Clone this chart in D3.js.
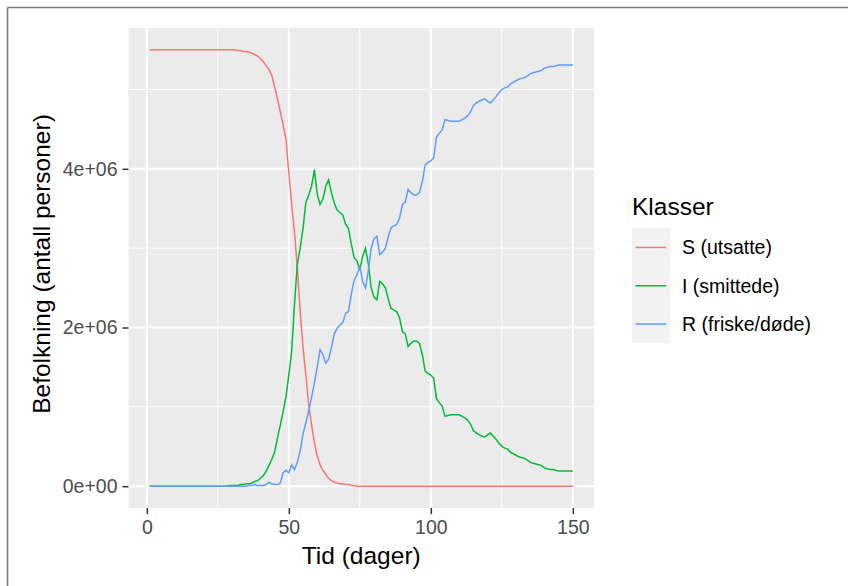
<!DOCTYPE html>
<html>
<head>
<meta charset="utf-8">
<script src="https://cdn.jsdelivr.net/npm/d3@7"></script>
<style>
  body { margin: 0; background: #fff; }
  svg { display: block; font-family: "Liberation Sans", Arial, sans-serif; }
</style>
</head>
<body>
<svg id="chart" width="848" height="586"></svg>
<script>
// values in millions of persons, one per day (day 1 .. 150)
var days = d3.range(1, 151);

var S = [
  5.5,5.5,5.5,5.5,5.5,5.5,5.5,5.5,5.5,5.5,
  5.5,5.5,5.5,5.5,5.5,5.5,5.5,5.5,5.5,5.5,
  5.5,5.5,5.5,5.5,5.5,5.5,5.5,5.5,5.5,5.5,
  5.5,5.49,5.49,5.48,5.48,5.47,5.46,5.44,5.42,5.39,
  5.35,5.30,5.25,5.18,5.03,4.88,4.72,4.55,4.37,3.95,
  3.55,3.20,2.75,2.20,1.75,1.40,1.02,0.78,0.55,0.38,
  0.27,0.20,0.15,0.10,0.07,0.05,0.04,0.03,0.03,0.02,
  0.02,0.01,0.01,0,0,0,0,0,0,0,
  0,0,0,0,0,0,0,0,0,0,
  0,0,0,0,0,0,0,0,0,0,
  0,0,0,0,0,0,0,0,0,0,
  0,0,0,0,0,0,0,0,0,0,
  0,0,0,0,0,0,0,0,0,0,
  0,0,0,0,0,0,0,0,0,0,
  0,0,0,0,0,0,0,0,0,0
];

var I = [
  0,0,0,0,0,0,0,0,0,0,
  0,0,0,0,0,0,0,0,0,0,
  0,0,0,0,0,0,0,0,0.01,0.01,
  0.01,0.01,0.02,0.02,0.03,0.03,0.04,0.06,0.07,0.10,
  0.13,0.19,0.26,0.34,0.43,0.61,0.77,0.94,1.13,1.40,
  1.70,2.30,2.80,3.00,3.25,3.58,3.67,3.78,3.99,3.68,
  3.55,3.62,3.78,3.86,3.70,3.57,3.48,3.45,3.42,3.30,
  3.25,3.05,2.88,2.84,2.72,2.90,3.00,2.80,2.50,2.38,
  2.35,2.58,2.55,2.50,2.36,2.24,2.22,2.20,2.12,1.95,
  1.92,1.76,1.80,1.83,1.83,1.80,1.66,1.45,1.42,1.40,
  1.36,1.10,1.05,1.01,0.88,0.89,0.90,0.90,0.90,0.90,
  0.88,0.86,0.83,0.78,0.70,0.67,0.65,0.63,0.62,0.65,
  0.67,0.63,0.59,0.54,0.50,0.48,0.47,0.43,0.41,0.39,
  0.37,0.36,0.35,0.33,0.30,0.29,0.28,0.27,0.26,0.23,
  0.22,0.21,0.21,0.20,0.19,0.19,0.19,0.19,0.19,0.19
];

var R = [
  0,0,0,0,0,0,0,0,0,0,
  0,0,0,0,0,0,0,0,0,0,
  0,0,0,0,0,0,0,0,0,0,
  0,0,0,0,0,0.01,0.01,0.02,0.01,0.01,
  0.01,0.02,0.05,0.03,0.02,0.02,0.04,0.17,0.20,0.17,
  0.27,0.21,0.30,0.45,0.66,0.80,0.95,1.12,1.30,1.50,
  1.72,1.66,1.55,1.60,1.75,1.92,1.99,2.03,2.06,2.18,
  2.20,2.42,2.60,2.66,2.78,2.58,2.50,2.72,3.00,3.12,
  3.15,2.92,2.95,3.00,3.14,3.26,3.28,3.30,3.38,3.55,
  3.58,3.74,3.70,3.67,3.67,3.70,3.84,4.05,4.08,4.10,
  4.14,4.40,4.45,4.49,4.62,4.61,4.60,4.60,4.60,4.60,
  4.62,4.64,4.67,4.72,4.80,4.83,4.85,4.87,4.88,4.85,
  4.83,4.87,4.91,4.96,5.00,5.02,5.03,5.07,5.09,5.11,
  5.13,5.14,5.15,5.17,5.20,5.21,5.22,5.23,5.24,5.27,
  5.28,5.29,5.29,5.30,5.31,5.31,5.31,5.31,5.31,5.31
];

var seriesNames = ["S (utsatte)", "I (smittede)", "R (friske/døde)"];
var seriesColors = ["#F8766D", "#00BA38", "#619CFF"];

var xTicks = [0, 50, 100, 150];
var xMinor = [25, 75, 125];
var yTicks = [0, 2, 4];
var yTickLabels = ["0e+00", "2e+06", "4e+06"];
var yMinor = [1, 3, 5];

var xTitle = "Tid (dager)";
var yTitle = "Befolkning (antall personer)";
var legendTitle = "Klasser";

// panel box
var panel = { left: 128.5, right: 594, top: 28, bottom: 508 };

var svg = d3.select("#chart");

// outer frame (only top and left edges visible in the shot)
svg.append("line").attr("x1", 7.5).attr("x2", 848).attr("y1", 7.5).attr("y2", 7.5)
    .attr("stroke", "#7a7a7a").attr("stroke-width", 1.6);
svg.append("line").attr("x1", 7.5).attr("x2", 7.5).attr("y1", 7.5).attr("y2", 586)
    .attr("stroke", "#7a7a7a").attr("stroke-width", 1.6);

// ggplot-like 5% expansion
var xExt = d3.extent(days);
var xPad = (xExt[1] - xExt[0]) * 0.05;
var x = d3.scaleLinear()
    .domain([xExt[0] - xPad, xExt[1] + xPad])
    .range([panel.left, panel.right]);

var yMax = d3.max([d3.max(S), d3.max(I), d3.max(R)]);
var yPad = yMax * 0.05;
var y = d3.scaleLinear()
    .domain([-yPad, yMax + yPad])
    .range([panel.bottom, panel.top]);

// panel background
svg.append("rect")
    .attr("x", panel.left).attr("y", panel.top)
    .attr("width", panel.right - panel.left)
    .attr("height", panel.bottom - panel.top)
    .attr("fill", "#EBEBEB");

var grid = svg.append("g");
grid.selectAll(".xminor").data(xMinor).enter().append("line")
    .attr("x1", d => x(d)).attr("x2", d => x(d))
    .attr("y1", panel.top).attr("y2", panel.bottom)
    .attr("stroke", "#fff").attr("stroke-width", 1);
grid.selectAll(".yminor").data(yMinor).enter().append("line")
    .attr("y1", d => y(d)).attr("y2", d => y(d))
    .attr("x1", panel.left).attr("x2", panel.right)
    .attr("stroke", "#fff").attr("stroke-width", 1);
grid.selectAll(".xmajor").data(xTicks).enter().append("line")
    .attr("x1", d => x(d)).attr("x2", d => x(d))
    .attr("y1", panel.top).attr("y2", panel.bottom)
    .attr("stroke", "#fff").attr("stroke-width", 2);
grid.selectAll(".ymajor").data(yTicks).enter().append("line")
    .attr("y1", d => y(d)).attr("y2", d => y(d))
    .attr("x1", panel.left).attr("x2", panel.right)
    .attr("stroke", "#fff").attr("stroke-width", 2);

// lines
var allSeries = [S, I, R];
var line = d3.line()
    .x((d, i) => x(days[i]))
    .y(d => y(d));

svg.append("g").selectAll("path")
    .data(allSeries)
    .enter()
    .append("path")
    .attr("d", d => line(d))
    .attr("fill", "none")
    .attr("stroke", (d, i) => seriesColors[i])
    .attr("stroke-width", 1.5);

// axes
var bottomAxis = d3.axisBottom(x)
    .tickValues(xTicks)
    .tickSize(6)
    .tickPadding(6)
    .tickFormat(d3.format("d"));
var leftAxis = d3.axisLeft(y)
    .tickValues(yTicks)
    .tickSize(6)
    .tickPadding(5)
    .tickFormat((d, i) => yTickLabels[i]);

var gx = svg.append("g")
    .attr("transform", `translate(0, ${panel.bottom})`)
    .call(bottomAxis);
var gy = svg.append("g")
    .attr("transform", `translate(${panel.left}, 0)`)
    .call(leftAxis);

[gx, gy].forEach(function(g) {
    g.select(".domain").remove();
    g.selectAll(".tick line").attr("stroke", "#333").attr("stroke-width", 1.5);
    g.selectAll(".tick text")
        .attr("fill", "#4D4D4D")
        .style("font-size", "19.5px")
        .style("font-family", "'Liberation Sans', Arial, sans-serif");
});

// axis titles
svg.append("text")
    .attr("x", (panel.left + panel.right) / 2)
    .attr("y", 564)
    .attr("text-anchor", "middle")
    .style("font-size", "24.5px")
    .attr("fill", "#000")
    .text(xTitle);

svg.append("text")
    .attr("transform", `translate(50, 264) rotate(-90)`)
    .attr("text-anchor", "middle")
    .style("font-size", "24.5px")
    .attr("fill", "#000")
    .text(yTitle);

// legend
var legend = svg.append("g").attr("transform", "translate(632, 0)");
legend.append("text")
    .attr("x", 0).attr("y", 215)
    .style("font-size", "24.5px")
    .attr("fill", "#000")
    .text(legendTitle);

var keySize = 38.3;
var keyTop = 228.3;
var items = legend.selectAll(".key")
    .data(seriesNames)
    .enter()
    .append("g")
    .attr("transform", (d, i) => `translate(0, ${keyTop + i * keySize})`);

items.append("rect")
    .attr("width", keySize).attr("height", keySize)
    .attr("fill", "#F2F2F2");
items.append("line")
    .attr("x1", 3.5).attr("x2", keySize - 4)
    .attr("y1", keySize / 2).attr("y2", keySize / 2)
    .attr("stroke", (d, i) => seriesColors[i])
    .attr("stroke-width", 1.5);
items.append("text")
    .attr("x", 50)
    .attr("y", keySize / 2)
    .attr("dy", "0.36em")
    .style("font-size", "19.5px")
    .attr("fill", "#000")
    .text(d => d);
</script>
</body>
</html>
